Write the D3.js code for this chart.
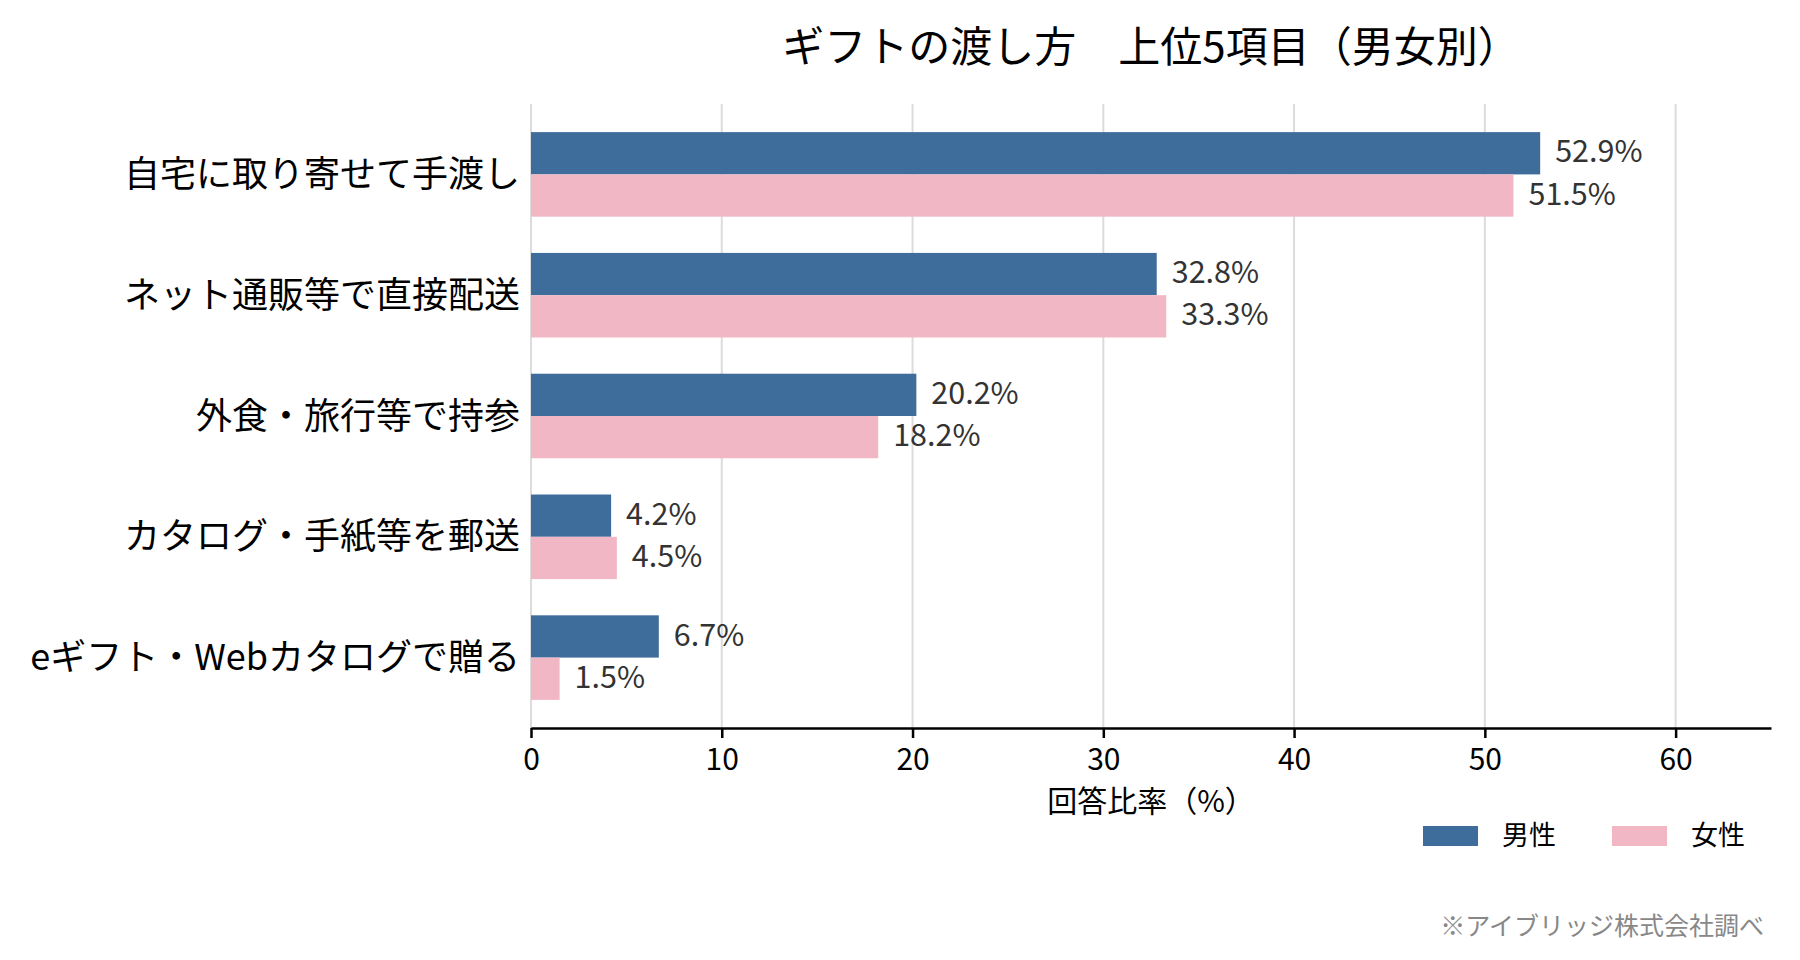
<!DOCTYPE html>
<html>
<head>
<meta charset="utf-8">
<script src="https://cdn.jsdelivr.net/npm/d3@7"></script>
<style>
  body { margin: 0; background: #fff; }
  svg { display: block; font-family: "Noto Sans CJK JP", "Noto Sans", sans-serif; }
</style>
</head>
<body>
<svg id="chart" width="1800" height="960"></svg>
<script>
// data
const categories = [
  '自宅に取り寄せて手渡し',
  'ネット通販等で直接配送',
  '外食・旅行等で持参',
  'カタログ・手紙等を郵送',
  'eギフト・Webカタログで贈る'
];
const genders = ['男性', '女性'];
const male = [52.9, 32.8, 20.2, 4.2, 6.7];
const female = [51.5, 33.3, 18.2, 4.5, 1.5];
const xTicks = [0, 10, 20, 30, 40, 50, 60];

const colors = { '男性': '#3e6d9c', '女性': '#f2b7c5' };

const svg = d3.select('#chart');

const x = d3.scaleLinear()
  .domain([0, 65])
  .range([531, 1771]);

const y = d3.scaleBand()
  .domain(categories)
  .range([114, 718])
  .paddingInner(0.3)
  .paddingOuter(0.15);

const yg = d3.scaleBand()
  .domain(genders)
  .range([0, y.bandwidth()]);

const axisY = 728;

// grid
svg.append('g')
  .selectAll('line')
  .data(xTicks)
  .join('line')
  .attr('x1', d => x(d))
  .attr('x2', d => x(d))
  .attr('y1', 104)
  .attr('y2', axisY)
  .attr('stroke', '#dcdcdc')
  .attr('stroke-width', 2);

// rows: one per category, two bars each
const rows = categories.map((c, i) => ({ cat: c, vals: [
  { g: '男性', v: male[i] },
  { g: '女性', v: female[i] }
]}));

const groups = svg.append('g')
  .selectAll('g.row')
  .data(rows)
  .join('g')
  .classed('row', true)
  .attr('transform', d => `translate(0,${y(d.cat)})`);

groups.selectAll('rect')
  .data(d => d.vals)
  .join('rect')
  .attr('x', x(0))
  .attr('y', d => yg(d.g))
  .attr('width', d => x(d.v) - x(0))
  .attr('height', yg.bandwidth())
  .attr('fill', d => colors[d.g]);

groups.selectAll('text.val')
  .data(d => d.vals)
  .join('text')
  .classed('val', true)
  .attr('x', d => x(d.v) + 15)
  .attr('y', d => yg(d.g) + yg.bandwidth() / 2)
  .attr('dy', '0.3em')
  .attr('font-size', 30.5)
  .attr('fill', '#333')
  .text(d => d.v.toFixed(1) + '%');

// category labels
svg.append('g')
  .selectAll('text')
  .data(categories)
  .join('text')
  .attr('x', 520)
  .attr('y', d => y(d) + y.bandwidth() / 2)
  .attr('dy', '0.35em')
  .attr('text-anchor', 'end')
  .attr('font-size', 36)
  .attr('fill', '#000')
  .text(d => d);

// x axis
const xAxis = svg.append('g')
  .attr('transform', `translate(0,${axisY})`)
  .call(d3.axisBottom(x).tickValues(xTicks).tickSize(10).tickPadding(11).tickSizeOuter(0));
xAxis.select('.domain').attr('stroke', '#000').attr('stroke-width', 2.5);
xAxis.selectAll('.tick line').attr('stroke', '#000').attr('stroke-width', 2.5);
xAxis.selectAll('.tick text')
  .attr('font-size', 30)
  .attr('font-family', '"Noto Sans CJK JP", sans-serif')
  .attr('fill', '#000');

svg.append('text')
  .attr('x', (x.range()[0] + x.range()[1]) / 2)
  .attr('y', 801)
  .attr('dy', '0.35em')
  .attr('text-anchor', 'middle')
  .attr('font-size', 30)
  .text('回答比率（%）');

// title
svg.append('text')
  .attr('x', (x.range()[0] + x.range()[1]) / 2)
  .attr('y', 47)
  .attr('dy', '0.35em')
  .attr('text-anchor', 'middle')
  .attr('font-size', 42)
  .text('ギフトの渡し方　上位5項目（男女別）');

// legend
const legend = svg.append('g')
  .selectAll('g')
  .data(genders)
  .join('g')
  .attr('transform', (d, i) => `translate(${1423 + i * 189},826)`);
legend.append('rect')
  .attr('width', 55)
  .attr('height', 20)
  .attr('fill', d => colors[d]);
legend.append('text')
  .attr('x', 79)
  .attr('y', 10)
  .attr('dy', '0.35em')
  .attr('font-size', 27)
  .text(d => d);

// source note
svg.append('text')
  .attr('x', 1764)
  .attr('y', 926)
  .attr('dy', '0.35em')
  .attr('text-anchor', 'end')
  .attr('font-size', 25)
  .attr('fill', '#888')
  .text('※アイブリッジ株式会社調べ');
</script>
</body>
</html>
